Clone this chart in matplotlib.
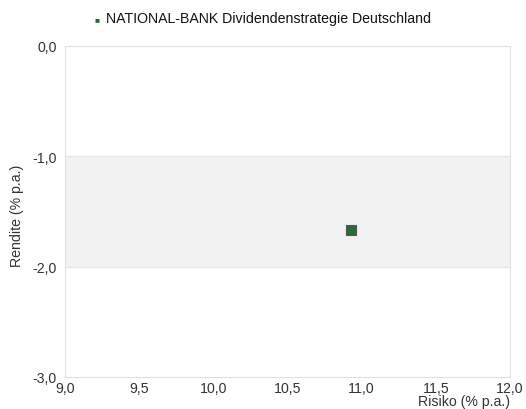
import matplotlib
matplotlib.use("Agg")
import matplotlib.pyplot as plt

# === DATOS ===
fund_names = ["NATIONAL-BANK Dividendenstrategie Deutschland"]
risiko = [10.93]
rendite = [-1.67]
x_ticks = [9.0, 9.5, 10.0, 10.5, 11.0, 11.5, 12.0]
y_ticks = [0.0, -1.0, -2.0, -3.0]

plt.rcParams["font.family"] = ["Liberation Sans", "DejaVu Sans"]
text_col = "#333333"
fs = 10.2

fig = plt.figure(figsize=(5.26, 4.10), dpi=100)
ax = fig.add_axes([65 / 526, 1 - 378 / 410, 445 / 526, 331 / 410])

ax.set_xlim(x_ticks[0], x_ticks[-1])
ax.set_ylim(y_ticks[-1], y_ticks[0])

# bandas alternas
ax.axhspan(-2.0, -1.0, color="#f2f2f2", zorder=0)
for y in y_ticks[1:-1]:
    ax.axhline(y, color="#e6e6e6", linewidth=0.8, zorder=1)

ax.scatter(risiko, rendite, marker="s", s=42, color="#2a6b3c",
           edgecolors="#555555", linewidths=0.8, zorder=3)

for s in ax.spines.values():
    s.set_color("#e0e0e0")
    s.set_linewidth(0.8)

fmt = lambda v: f"{v:.1f}".replace(".", ",")
ax.set_xticks(x_ticks)
ax.set_xticklabels([fmt(v) for v in x_ticks])
ax.set_yticks(y_ticks)
ax.set_yticklabels([fmt(v) for v in y_ticks])
ax.tick_params(length=0, labelsize=fs, labelcolor=text_col)
ax.tick_params(axis="x", pad=3)
ax.tick_params(axis="y", pad=6)

fig.text(17 / 526, 1 - 216 / 410, "Rendite (% p.a.)", rotation=90,
         ha="center", va="center", fontsize=fs, color=text_col)
fig.text(510 / 526, 1 - 402 / 410, "Risiko (% p.a.)", ha="right",
         va="center", fontsize=fs, color=text_col)

# leyenda
fig.text(97 / 526, 1 - 21 / 410, "\u25a0", fontsize=6, color="#2a6b3c",
         ha="center", va="center")
fig.text(106 / 526, 1 - 19 / 410, fund_names[0], fontsize=fs,
         color="#111111", ha="left", va="center")

fig.savefig("out.png", dpi=100)
